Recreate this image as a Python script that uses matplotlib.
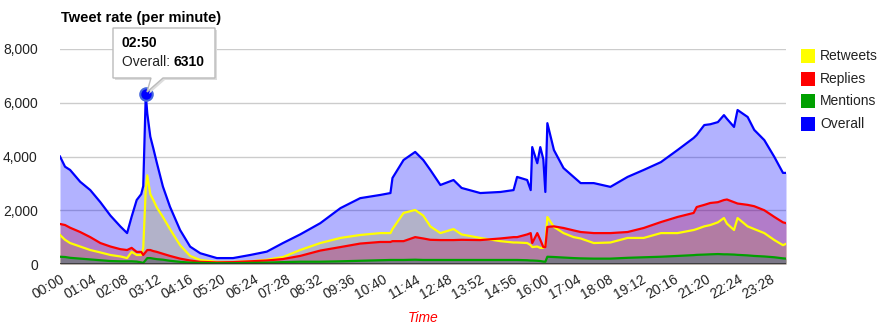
import matplotlib
matplotlib.use("Agg")
import matplotlib.pyplot as plt
from matplotlib.patches import Polygon, Rectangle
import numpy as np

plt.rcParams['font.family'] = ['Liberation Sans', 'DejaVu Sans']

# ---------------- data (minutes since 00:00, tweets per minute) ----------------
minutes = [0, 10, 20, 40, 60, 80, 100, 120,
           133, 142, 152, 161, 165, 170, 173, 179,
           185, 192, 204, 218, 238, 258, 278, 311,
           343, 377, 410, 442, 476, 516, 556, 595,
           635, 655, 659, 681, 704, 720, 734, 754,
           780, 796, 833, 873, 899, 906, 926, 933,
           936, 946, 952, 958, 962, 966, 979, 998,
           1018, 1032, 1058, 1091, 1125, 1157, 1191, 1224,
           1256, 1262, 1277, 1289, 1304, 1316, 1322, 1336,
           1343, 1363, 1376, 1396, 1416, 1433, 1439]

overall = [4000, 3620, 3500, 3060, 2750, 2300, 1800, 1390,
           1150, 1760, 2380, 2600, 2900, 6310, 5600, 4740,
           4300, 3760, 2880, 2130, 1265, 645, 400, 220,
           220, 335, 460, 780, 1100, 1520, 2080, 2450,
           2570, 2640, 3200, 3870, 4170, 3870, 3500, 2940,
           3125, 2830, 2640, 2680, 2750, 3240, 3125, 2750,
           4350, 3750, 4350, 3900, 2680, 5240, 4240, 3570,
           3240, 3010, 3010, 2870, 3240, 3500, 3790, 4240,
           4690, 4800, 5170, 5200, 5280, 5540, 5400, 5100,
           5730, 5470, 4990, 4610, 3980, 3390, 3390]

retweets = [1080, 900, 780, 650, 520, 430, 335, 280,
            220, 450, 335, 335, 600, 2800, 3300, 2600,
            2380, 2100, 1750, 1300, 700, 300, 150, 80,
            80, 100, 160, 260, 520, 780, 970, 1080,
            1150, 1150, 1300, 1900, 2010, 1800, 1400, 1150,
            1300, 1100, 970, 850, 800, 800, 780, 700,
            630, 650, 600, 600, 700, 1750, 1380, 1150,
            1000, 950, 780, 800, 970, 970, 1150, 1150,
            1265, 1300, 1400, 1450, 1550, 1710, 1500, 1265,
            1710, 1400, 1300, 1150, 890, 700, 750]

replies = [1490, 1450, 1350, 1190, 1000, 780, 650, 550,
           520, 600, 450, 450, 335, 450, 520, 520,
           480, 450, 380, 300, 200, 130, 80, 60,
           70, 100, 130, 185, 300, 500, 630, 760,
           820, 820, 850, 850, 1000, 950, 900, 890,
           890, 900, 890, 950, 1000, 1000, 1100, 1150,
           780, 1150, 900, 630, 630, 1380, 1400, 1340,
           1250, 1190, 1150, 1150, 1190, 1340, 1560, 1750,
           1900, 2120, 2200, 2270, 2300, 2380, 2400, 2300,
           2250, 2200, 2150, 2000, 1750, 1550, 1520]

mentions = [270, 260, 230, 200, 170, 140, 110, 100,
            100, 100, 90, 60, 40, 150, 220, 220,
            200, 180, 160, 120, 80, 50, 40, 30,
            30, 40, 50, 70, 85, 85, 100, 120,
            140, 150, 150, 150, 160, 150, 150, 150,
            150, 150, 150, 150, 150, 150, 140, 130,
            130, 120, 110, 90, 85, 270, 260, 240,
            220, 210, 200, 200, 230, 250, 270, 300,
            330, 340, 350, 360, 370, 360, 360, 350,
            340, 320, 300, 280, 250, 210, 200]

series_names = ["Retweets", "Replies", "Mentions", "Overall"]
series_colors = ["#ffff00", "#ff0000", "#00a000", "#0000ff"]
y_ticks = [0, 2000, 4000, 6000, 8000]
x_tick_minutes = list(range(0, 1440, 64))
x_tick_labels = ["%02d:%02d" % (m // 60, m % 60) for m in x_tick_minutes]

# ---------------- figure ----------------
W, H = 886, 335
fig = plt.figure(figsize=(W / 100, H / 100), dpi=100)

def fx(px):
    return px / W

def fy(py):
    return 1 - py / H

ax = fig.add_axes([fx(60), fy(264), (786 - 60) / W, (264 - 49) / H])

all_series = [retweets, replies, mentions, overall]
for vals, col in zip(all_series, series_colors):
    ax.fill_between(minutes, 0, vals, color=col, alpha=0.3, lw=0, zorder=2)
for vals, col in zip(all_series, series_colors):
    ax.plot(minutes, vals, color=col, lw=1.6, zorder=3, solid_joinstyle='round')

ax.set_xlim(0, 1439)
ax.set_ylim(0, 8000)
ax.set_yticks(y_ticks)
ax.set_yticklabels(["{:,}".format(v) for v in y_ticks])
ax.set_xticks(x_tick_minutes)
ax.set_xticklabels(x_tick_labels, rotation=30, ha='right', rotation_mode='anchor')
ax.tick_params(axis='both', length=0, labelsize=10, colors='#222222')
ax.tick_params(axis='y', pad=16)
ax.tick_params(axis='x', pad=6)
for s in ax.spines.values():
    s.set_visible(False)
ax.grid(axis='y', color='#cccccc', lw=1, zorder=1)
ax.set_axisbelow(True)
ax.axhline(0, color='#333333', lw=1.2, zorder=4)

# title and axis title
fig.text(fx(61), fy(18), "Tweet rate (per minute)", fontsize=10.5, fontweight='bold',
         ha='left', va='center', color='#000000')
fig.text(fx(423), fy(318), "Time", fontsize=10, style='italic', color='#ff0000',
         ha='center', va='center')

# legend
for i, (name, col) in enumerate(zip(series_names, series_colors)):
    ytop = 49 + i * 22.7
    fig.patches.append(Rectangle((fx(801), fy(ytop + 14)), 14 / W, 14 / H,
                                 transform=fig.transFigure, facecolor=col,
                                 edgecolor='none', figure=fig))
    fig.text(fx(820), fy(ytop + 7), name, fontsize=10, ha='left', va='center',
             color='#222222')

# tooltip at the peak
ipk = int(np.argmax(overall))
pk_min = minutes[ipk]
pk_val = overall[ipk]
ax.plot([pk_min], [pk_val], marker='o', ms=9, mfc='#0000ff', mec='#4466dd',
        mew=1.5, zorder=6, clip_on=False)

box = [(113, 28), (215, 28), (215, 78), (163, 78), (147, 92), (151, 78), (113, 78)]
shadow = Polygon([(fx(x + 2), fy(y + 2)) for x, y in box], closed=True,
                 transform=fig.transFigure, facecolor='#dddddd', edgecolor='none',
                 zorder=10)
tip = Polygon([(fx(x), fy(y)) for x, y in box], closed=True,
              transform=fig.transFigure, facecolor='white', edgecolor='#bbbbbb',
              lw=1, zorder=11)
fig.add_artist(shadow)
fig.add_artist(tip)
fig.text(fx(122), fy(43), "%02d:%02d" % (pk_min // 60, pk_min % 60), fontsize=10,
         fontweight='bold', ha='left', va='center', zorder=12)
t1 = fig.text(fx(122), fy(62), "Overall: ", fontsize=10, ha='left', va='center',
              zorder=12, color='#222222')
fig.canvas.draw()
bb = t1.get_window_extent()
fig.text(bb.x1 / W, fy(62), "%d" % pk_val, fontsize=10, fontweight='bold',
         ha='left', va='center', zorder=12)

fig.savefig("out.png", dpi=100)
